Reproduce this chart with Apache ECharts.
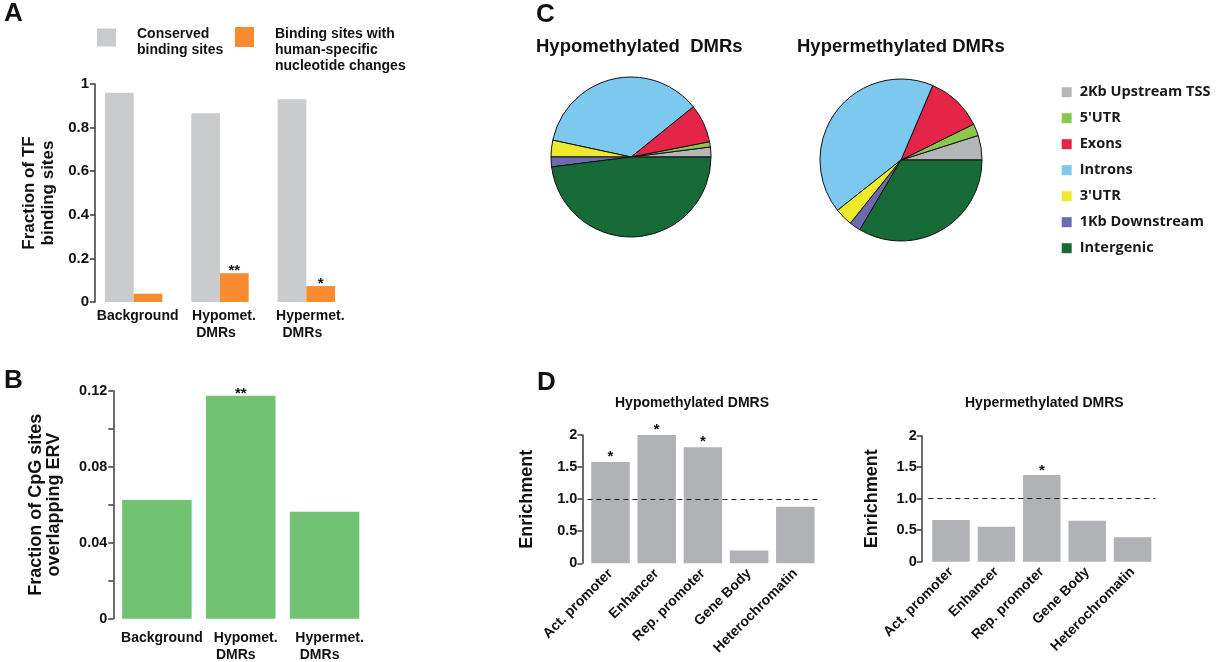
<!DOCTYPE html>
<html><head><meta charset="utf-8">
<script src="https://cdn.jsdelivr.net/npm/echarts/dist/echarts.min.js"></script>
<style>html,body{margin:0;padding:0;background:#fff}#c{width:1216px;height:662px}</style>
</head><body><div id="c"></div>
<script>
// ---- Data ----
const catsA = ['Background', 'Hypomet.\nDMRs', 'Hypermet.\nDMRs'];
const conservedA = [0.96, 0.866, 0.93];
const humanSpecA = [0.038, 0.132, 0.073];
const starsA = ['', '**', '*'];

const catsB = ['Background', 'Hypomet.\nDMRs', 'Hypermet.\nDMRs'];
const ervB = [0.0625, 0.1174, 0.0563];
const starsB = ['', '**', ''];

const regions = ['2Kb Upstream TSS', "5'UTR", 'Exons', 'Introns', "3'UTR", '1Kb Downstream', 'Intergenic'];
const hypoPie = [2.0, 1.06, 7.75, 35.8, 3.36, 2.0, 48.0];
const hyperPie = [4.9, 2.4, 11.3, 42.1, 3.6, 2.25, 33.5];

const catsD = ['Act. promoter', 'Enhancer', 'Rep. promoter', 'Gene Body', 'Heterochromatin'];
const hypoEnr = [1.58, 2.05, 1.81, 0.20, 0.88];
const hyperEnr = [0.66, 0.556, 1.376, 0.65, 0.39];
const starsHypoD = ['*', '*', '*', '', ''];
const starsHyperD = ['', '', '*', '', ''];

// ---- Styles ----
const FONT = 'Liberation Sans, Arial, sans-serif';
const INK = '#111';
const AXC = '#3a3a3a';
const pieColors = ['#b5b6b9', '#8dc64f', '#e52548', '#7dc8ee', '#efe92e', '#6a6bb1', '#176b37'];

function yAxisBase(gi, opts) {
  return Object.assign({
    type: 'value', gridIndex: gi,
    axisLine: {show: true, lineStyle: {color: AXC, width: 1.5}},
    axisTick: {show: true, length: 5, lineStyle: {color: AXC, width: 1.5}},
    splitLine: {show: false},
    axisLabel: {color: INK, fontWeight: 'bold', fontFamily: FONT, fontSize: 14.5, margin: 5},
    nameLocation: 'middle', nameRotate: 90, nameMoveOverlap: false,
    nameTextStyle: {color: INK, fontWeight: 'bold', fontFamily: FONT, fontSize: 18}
  }, opts);
}
// two-line category labels: second line nudged left like the reference
function catLabel(shiftPad, line2Pad) {
  return {
    color: INK, fontWeight: 'bold', fontFamily: FONT, fontSize: 14, lineHeight: 17, interval: 0,
    padding: [0, 0, 0, shiftPad],
    formatter: v => {
      const parts = v.split('\n');
      return parts.length > 1 ? '{a|' + parts[0] + '}\n{b|' + parts[1] + '}' : '{a|' + v + '}';
    },
    rich: {
      a: {color: INK, fontWeight: 'bold', fontFamily: FONT, fontSize: 14, lineHeight: 17},
      b: {color: INK, fontWeight: 'bold', fontFamily: FONT, fontSize: 14, lineHeight: 17, padding: [0, line2Pad, 0, 0]}
    }
  };
}
function xAxisBase(gi, data, label) {
  return {
    type: 'category', gridIndex: gi, data: data,
    axisLine: {show: false}, axisTick: {show: false},
    axisLabel: label
  };
}
function starLabel(stars, off) {
  return {show: true, position: 'top', distance: 0, offset: [0, off],
    color: INK, fontWeight: 'bold', fontFamily: FONT, fontSize: 15,
    formatter: p => stars[p.dataIndex]};
}
const dashLine = {
  silent: true, symbol: ['none', 'none'], animation: false,
  label: {show: false},
  lineStyle: {type: [5, 4], color: '#222', width: 1},
  data: [{yAxis: 1}]
};
const titleStyle = (size) => ({fontSize: size, fontWeight: 'bold', fontFamily: FONT, color: INK});
const legTxt = {color: INK, fontWeight: 'bold', fontFamily: FONT, fontSize: 14, lineHeight: 16};

const labA = catLabel(8, 16); labA.margin = 6;
const labB = catLabel(10, 20); labB.margin = 11;
const labD = {color: INK, fontWeight: 'bold', fontFamily: FONT, fontSize: 14, interval: 0, rotate: 45, margin: 8};

const chart = echarts.init(document.getElementById('c'), null, {renderer: 'canvas'});
chart.setOption({
  backgroundColor: '#fff',
  animation: false,
  title: [
    {text: 'A', left: 4, top: 1, padding: 0, textStyle: titleStyle(26)},
    {text: 'B', left: 4, top: 368, padding: 0, textStyle: titleStyle(26)},
    {text: 'C', left: 536, top: 2, padding: 0, textStyle: titleStyle(26)},
    {text: 'D', left: 537, top: 370, padding: 0, textStyle: titleStyle(26)},
    {text: 'Hypomethylated  DMRs', left: 536, top: 37, padding: 0, textStyle: titleStyle(18.5)},
    {text: 'Hypermethylated DMRs', left: 797, top: 37, padding: 0, textStyle: titleStyle(18.5)},
    {text: 'Hypomethylated DMRS', left: 615, top: 396, padding: 0, textStyle: titleStyle(14)},
    {text: 'Hypermethylated DMRS', left: 965, top: 396, padding: 0, textStyle: titleStyle(14)}
  ],
  legend: [
    {left: 97, top: 17, padding: 0, itemWidth: 19, itemHeight: 18, icon: 'rect', selectedMode: false,
     data: ['Conserved binding sites'],
     formatter: () => '{s| }\n{t|Conserved}\n{t|binding sites}',
     textStyle: Object.assign({}, legTxt, {padding: [0, 0, 0, 16],
       rich: {s: {fontSize: 4, lineHeight: 9}, t: legTxt}})},
    {left: 235, top: 0, padding: 0, itemWidth: 19, itemHeight: 20, icon: 'rect', selectedMode: false,
     data: ['Binding sites with human-specific nucleotide changes'],
     formatter: () => '{s| }\n{t|Binding sites with}\n{t|human-specific}\n{t|nucleotide changes}',
     textStyle: Object.assign({}, legTxt, {padding: [0, 0, 0, 16],
       rich: {s: {fontSize: 4, lineHeight: 26}, t: legTxt}})},
    {orient: 'vertical', left: 1061.7, top: 84.7, padding: 0, itemWidth: 10, itemHeight: 10, itemGap: 11,
     icon: 'rect', selectedMode: false, data: regions,
     itemStyle: {borderWidth: 0},
     textStyle: {fontSize: 14.5, lineHeight: 14, fontWeight: 'bold', fontFamily: 'Open Sans', color: '#1a1a1a', padding: [0, 0, 0, 3]}}
  ],
  grid: [
    {left: 90.5, top: 84, width: 259, height: 218, outerBoundsMode: 'none', containLabel: false},
    {left: 115, top: 390.7, width: 251.5, height: 228, outerBoundsMode: 'none', containLabel: false},
    {left: 587.4, top: 435, width: 231, height: 128.3, outerBoundsMode: 'none', containLabel: false},
    {left: 928.3, top: 435.7, width: 227, height: 126, outerBoundsMode: 'none', containLabel: false}
  ],
  xAxis: [
    xAxisBase(0, catsA, labA),
    xAxisBase(1, catsB, labB),
    xAxisBase(2, catsD, labD),
    xAxisBase(3, catsD, labD)
  ],
  yAxis: [
    yAxisBase(0, {min: 0, max: 1, interval: 0.2, offset: -4.5, name: 'Fraction of TF\nbinding sites', nameGap: 37,
      nameTextStyle: {color: INK, fontWeight: 'bold', fontFamily: FONT, fontSize: 17, lineHeight: 19},
      axisLabel: {color: INK, fontWeight: 'bold', fontFamily: FONT, fontSize: 15, margin: 6}}),
    yAxisBase(1, {min: 0, max: 0.12, interval: 0.02, offset: 1.7, name: 'Fraction of CpG sites\noverlapping ERV', nameGap: 50,
      nameTextStyle: {color: INK, fontWeight: 'bold', fontFamily: FONT, fontSize: 18, lineHeight: 18},
      axisLabel: {color: INK, fontWeight: 'bold', fontFamily: FONT, fontSize: 14.5, margin: 6,
        formatter: v => (Math.round(v * 100) % 4 === 0) ? String(+v.toFixed(2)) : ''}}),
    yAxisBase(2, {min: 0, max: 2, interval: 0.5, offset: 5, name: 'Enrichment', nameGap: 46,
      axisLabel: {color: INK, fontWeight: 'bold', fontFamily: FONT, fontSize: 14.5, margin: 5,
        formatter: v => v === 1 ? '1.0' : String(v)}}),
    yAxisBase(3, {min: 0, max: 2, interval: 0.5, offset: 6.6, name: 'Enrichment', nameGap: 41,
      axisLabel: {color: INK, fontWeight: 'bold', fontFamily: FONT, fontSize: 14.5, margin: 5,
        formatter: v => v === 1 ? '1.0' : String(v)}})
  ],
  series: [
    {name: 'Conserved binding sites', type: 'bar', xAxisIndex: 0, yAxisIndex: 0, data: conservedA,
     barWidth: 28.7, barGap: '0%', itemStyle: {color: '#c9cbcc'}},
    {name: 'Binding sites with human-specific nucleotide changes', type: 'bar', xAxisIndex: 0, yAxisIndex: 0, data: humanSpecA,
     barWidth: 28.7, barGap: '0%', itemStyle: {color: '#f68b2f'}, label: starLabel(starsA, 5)},
    {name: 'ERV', type: 'bar', xAxisIndex: 1, yAxisIndex: 1, data: ervB, barWidth: 69.5,
     itemStyle: {color: '#72c274'}, label: starLabel(starsB, 6)},
    {name: 'Hypo enrichment', type: 'bar', xAxisIndex: 2, yAxisIndex: 2, data: hypoEnr, barWidth: 38.5,
     itemStyle: {color: '#b1b2b5'}, label: starLabel(starsHypoD, 2), markLine: dashLine},
    {name: 'Hyper enrichment', type: 'bar', xAxisIndex: 3, yAxisIndex: 3, data: hyperEnr, barWidth: 37.5,
     itemStyle: {color: '#b1b2b5'}, label: starLabel(starsHyperD, 3.5), markLine: dashLine},
    {name: 'Hypo pie', type: 'pie', center: [631, 157], radius: 80, startAngle: 0, clockwise: false,
     label: {show: false}, labelLine: {show: false}, emphasis: {disabled: true},
     itemStyle: {borderColor: '#111', borderWidth: 1},
     data: regions.map((n, i) => ({name: n, value: hypoPie[i], itemStyle: {color: pieColors[i]}}))},
    {name: 'Hyper pie', type: 'pie', center: [901, 160], radius: 81, startAngle: 0, clockwise: false,
     label: {show: false}, labelLine: {show: false}, emphasis: {disabled: true},
     itemStyle: {borderColor: '#111', borderWidth: 1},
     data: regions.map((n, i) => ({name: n, value: hyperPie[i], itemStyle: {color: pieColors[i]}}))}
  ]
});
</script>
</body></html>
